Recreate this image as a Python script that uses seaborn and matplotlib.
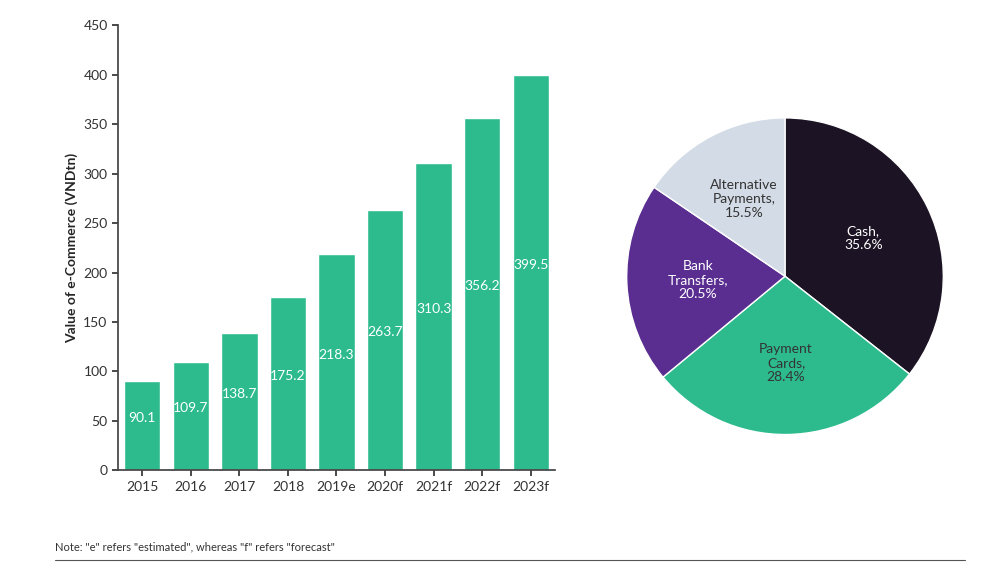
import matplotlib.pyplot as plt
import seaborn as sns
import pandas as pd

years = ['2015', '2016', '2017', '2018', '2019e', '2020f', '2021f', '2022f', '2023f']
values = [90.1, 109.7, 138.7, 175.2, 218.3, 263.7, 310.3, 356.2, 399.5]

pay_labels = ['Cash,\n35.6%', 'Payment\nCards,\n28.4%', 'Bank\nTransfers,\n20.5%', 'Alternative\nPayments,\n15.5%']
pay_shares = [35.6, 28.4, 20.5, 15.5]

GREEN = '#2dbb8e'
PIE_COLORS = ['#1c1424', GREEN, '#5a2d91', '#d3dbe6']
TEXT_COLORS = ['white', '#333333', 'white', '#333333']

sns.set_theme(style='white')
plt.rcParams['font.family'] = ['Lato', 'DejaVu Sans']

fig = plt.figure(figsize=(10, 5.62), dpi=100)
ax = fig.add_axes([0.118, 0.163, 0.437, 0.792])
df = pd.DataFrame({'year': years, 'value': values})
sns.barplot(data=df, x='year', y='value', color=GREEN, saturation=1, width=0.75, ax=ax)
for i, v in enumerate(values):
    ax.text(i, v * 0.5 + 8, f'{v}', ha='center', va='center', color='white', fontsize=10)
ax.set_ylim(0, 450)
ax.set_yticks(range(0, 451, 50))
ax.set_xlabel('')
ax.set_ylabel('Value of e-Commerce (VNDtn)', fontsize=10, fontweight='bold')
ax.tick_params(labelsize=10, colors='#333333', length=4, left=True, bottom=True)
for s in ['top', 'right']:
    ax.spines[s].set_visible(False)
for s in ['left', 'bottom']:
    ax.spines[s].set_color('#444444')

pax = fig.add_axes([0.625, 0.224, 0.32, 0.569])
wedges, texts = pax.pie(pay_shares, colors=PIE_COLORS, startangle=90, counterclock=False,
                        labels=pay_labels, labeldistance=0.55,
                        wedgeprops=dict(edgecolor='white', linewidth=1),
                        textprops=dict(fontsize=10, ha='center', va='center'))
for t, c in zip(texts, TEXT_COLORS):
    t.set_color(c)
pax.set_xlim(-1.01, 1.01)
pax.set_ylim(-1.01, 1.01)
pax.set_aspect('equal')

fig.text(0.055, 0.02, 'Note: "e" refers "estimated", whereas "f" refers "forecast"', fontsize=8, color='#333333')
fig.add_artist(plt.Line2D([0.055, 0.965], [0.003, 0.003], color='#555555', linewidth=0.8))
fig.savefig('out.png', dpi=100)
